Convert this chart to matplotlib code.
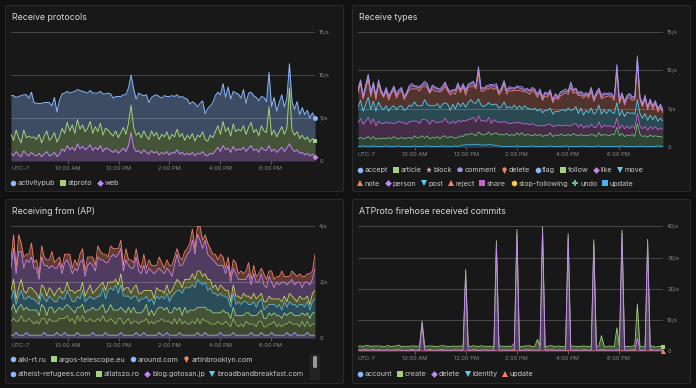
import matplotlib

matplotlib.use("Agg")
import matplotlib.pyplot as plt
import numpy as np
from matplotlib.lines import Line2D
from matplotlib.patches import FancyBboxPatch
from matplotlib.path import Path

# ---- data (values in tenths of events/s) ----
t_start, t_end = 7.75, 19.75
time_ticks = [10, 12, 14, 16, 18]
time_labels = ["10:00 AM", "12:00 PM", "2:00 PM", "4:00 PM", "6:00 PM"]

# Receive protocols
proto_names = ["web", "atproto", "activitypub"]  # bottom to top
proto_web = [
    9, 6, 11, 7, 5, 12, 8, 6, 10, 7, 6, 9, 5, 8, 11, 6, 7, 10, 5, 8,
    14, 11, 18, 13, 16, 12, 20, 14, 17, 13, 15, 19, 12, 16, 13, 18, 11, 15, 14, 12,
    10, 13, 9, 12, 15, 11, 18, 33, 16, 11, 12, 9, 13, 10, 8, 12, 9, 11, 7, 10,
    8, 11, 7, 10, 9, 13, 8, 10, 7, 9, 7, 10, 6, 9, 8, 11, 7, 6, 9, 8,
    12, 16, 11, 18, 13, 15, 10, 17, 12, 14, 13, 16, 11, 15, 18, 12, 14, 10, 16, 13,
    12, 18, 11, 14, 10, 13, 16, 11, 15, 20, 14, 11, 13, 9, 10, 7, 9, 6, 8, 5,
]
proto_atproto = [
    22, 18, 25, 20, 16, 24, 19, 23, 17, 21, 19, 22, 16, 21, 24, 18, 20, 23, 17, 20,
    24, 21, 27, 22, 26, 20, 28, 23, 25, 21, 23, 27, 20, 24, 21, 26, 19, 23, 22, 20,
    19, 22, 18, 21, 24, 20, 26, 32, 23, 19, 21, 18, 22, 19, 17, 23, 20, 22, 18, 21,
    20, 23, 18, 21, 19, 24, 20, 22, 17, 21, 19, 22, 17, 21, 20, 23, 18, 17, 21, 19,
    22, 25, 20, 28, 21, 24, 19, 26, 22, 23, 22, 25, 20, 24, 27, 21, 23, 19, 25, 22,
    21, 45, 19, 22, 18, 21, 24, 20, 23, 65, 22, 19, 21, 17, 20, 18, 19, 16, 18, 18,
]
proto_activitypub = [
    45, 52, 38, 48, 55, 41, 50, 44, 53, 40, 42, 36, 46, 39, 33, 44, 37, 41, 35, 43,
    40, 47, 36, 44, 38, 49, 35, 45, 39, 46, 41, 36, 47, 39, 45, 37, 48, 40, 43, 46,
    44, 40, 48, 42, 38, 46, 41, 35, 45, 42, 46, 50, 41, 48, 43, 39, 47, 44, 50, 42,
    48, 41, 50, 45, 47, 40, 46, 43, 49, 42, 40, 37, 44, 33, 39, 36, 30, 38, 34, 41,
    42, 39, 46, 44, 40, 47, 43, 38, 45, 41, 38, 42, 36, 40, 35, 43, 37, 41, 34, 39,
    36, 40, 33, 38, 30, 34, 37, 32, 35, 28, 33, 30, 35, 28, 32, 29, 31, 28, 30, 27,
]

# Receive types (visible bands, bottom to top)
types_update = [
    1, 1, 2, 1, 1, 1, 2, 1, 1, 1, 1, 2, 1, 1, 1, 1, 2, 1, 1, 1,
    1, 1, 2, 1, 1, 1, 1, 2, 1, 1, 1, 1, 1, 2, 1, 1, 1, 1, 2, 1,
    2, 3, 3, 4, 3, 4, 3, 4, 3, 3, 3, 4, 3, 3, 2, 2, 1, 1, 1, 1,
    1, 1, 2, 1, 1, 1, 1, 1, 2, 1, 1, 1, 1, 1, 1, 2, 1, 1, 1, 1,
    1, 2, 1, 1, 1, 1, 1, 1, 2, 1, 1, 1, 1, 1, 2, 1, 1, 1, 1, 1,
    1, 1, 1, 2, 1, 1, 1, 1, 1, 1, 2, 1, 1, 1, 1, 1, 1, 2, 1, 1,
]
types_undo = [
    10, 12, 9, 11, 13, 10, 12, 9, 11, 10, 11, 9, 12, 10, 13, 11, 9, 12, 10, 11,
    12, 10, 13, 11, 12, 14, 11, 13, 10, 12, 11, 13, 10, 12, 14, 11, 13, 12, 10, 12,
    13, 11, 14, 12, 15, 13, 12, 16, 14, 13, 14, 16, 13, 15, 17, 14, 16, 15, 17, 14,
    16, 14, 17, 15, 18, 14, 16, 15, 13, 16, 14, 16, 13, 15, 14, 17, 13, 15, 14, 16,
    15, 13, 16, 14, 17, 15, 14, 16, 13, 15, 14, 16, 15, 13, 17, 14, 16, 15, 14, 16,
    15, 25, 14, 16, 13, 15, 14, 16, 13, 30, 15, 13, 14, 12, 15, 13, 14, 12, 13, 12,
]
types_share = [
    21, 24, 19, 22, 25, 20, 23, 18, 22, 20, 19, 22, 18, 21, 17, 20, 23, 19, 21, 18,
    20, 23, 19, 22, 18, 21, 24, 20, 19, 22, 21, 18, 22, 19, 23, 20, 17, 21, 19, 22,
    18, 21, 17, 20, 19, 22, 18, 21, 17, 19, 16, 19, 15, 18, 14, 17, 15, 18, 14, 16,
    14, 17, 13, 16, 12, 15, 14, 13, 16, 12, 13, 11, 14, 12, 15, 11, 13, 12, 14, 11,
    12, 14, 11, 13, 12, 15, 11, 13, 10, 12, 11, 13, 10, 12, 14, 10, 12, 11, 13, 10,
    10, 12, 9, 11, 10, 12, 9, 11, 10, 13, 11, 10, 12, 9, 11, 10, 12, 9, 11, 10,
]
types_post = [
    20, 24, 17, 22, 26, 18, 23, 19, 25, 21, 18, 21, 16, 20, 23, 17, 19, 22, 16, 20,
    22, 19, 25, 20, 23, 18, 26, 21, 24, 19, 21, 25, 18, 23, 20, 24, 17, 22, 19, 23,
    20, 23, 18, 22, 25, 19, 24, 22, 21, 18, 22, 19, 24, 20, 23, 18, 21, 25, 19, 22,
    20, 23, 18, 22, 19, 24, 20, 21, 18, 22, 19, 22, 17, 20, 18, 21, 16, 19, 17, 20,
    21, 18, 23, 20, 19, 22, 18, 21, 17, 20, 19, 21, 17, 20, 22, 18, 20, 17, 21, 19,
    18, 20, 17, 19, 16, 18, 20, 17, 19, 18, 16, 14, 17, 13, 15, 12, 14, 11, 13, 11,
]
types_note = [
    19, 22, 16, 20, 24, 17, 21, 15, 23, 18, 16, 19, 14, 18, 21, 15, 17, 20, 14, 18,
    20, 23, 17, 22, 19, 24, 18, 21, 16, 22, 19, 16, 21, 18, 22, 17, 20, 15, 19, 21,
    18, 21, 16, 20, 17, 22, 19, 34, 18, 20, 21, 18, 23, 19, 22, 17, 20, 24, 18, 21,
    22, 19, 24, 20, 23, 18, 21, 19, 25, 20, 18, 21, 16, 19, 17, 20, 15, 18, 16, 19,
    20, 24, 18, 30, 21, 19, 23, 17, 22, 20, 19, 22, 17, 21, 18, 20, 16, 22, 18, 19,
    17, 42, 16, 19, 15, 18, 21, 16, 19, 48, 18, 15, 19, 14, 17, 13, 16, 12, 14, 11,
]
types_like = [
    3, 4, 2, 3, 5, 3, 2, 4, 3, 3, 2, 3, 4, 2, 3, 3, 4, 2, 3, 2,
    3, 4, 3, 2, 4, 3, 3, 4, 2, 3, 4, 3, 2, 3, 4, 2, 3, 3, 4, 3,
    3, 2, 4, 3, 3, 4, 2, 5, 3, 3, 2, 3, 3, 4, 2, 3, 3, 2, 4, 3,
    3, 2, 4, 3, 3, 2, 3, 4, 2, 3, 3, 3, 2, 4, 3, 2, 3, 3, 2, 4,
    3, 2, 3, 5, 3, 4, 2, 3, 3, 2, 3, 4, 2, 3, 3, 2, 4, 3, 2, 3,
    3, 5, 2, 3, 3, 2, 4, 3, 2, 6, 3, 2, 3, 3, 2, 4, 2, 3, 3, 2,
]
types_comment = [
    2, 1, 2, 3, 1, 2, 2, 1, 3, 2, 1, 2, 2, 1, 2, 3, 1, 2, 1, 2,
    2, 3, 1, 2, 2, 1, 3, 2, 1, 2, 2, 1, 2, 3, 1, 2, 2, 1, 2, 2,
    1, 2, 3, 1, 2, 2, 1, 3, 2, 1, 2, 2, 1, 2, 3, 1, 2, 2, 1, 2,
    2, 1, 2, 2, 3, 1, 2, 1, 2, 2, 1, 2, 3, 1, 2, 2, 1, 2, 2, 1,
    2, 3, 1, 2, 2, 1, 2, 2, 3, 1, 2, 1, 2, 2, 1, 3, 2, 1, 2, 2,
    1, 3, 2, 1, 2, 2, 1, 2, 2, 3, 1, 2, 2, 1, 2, 1, 2, 2, 1, 2,
]
types_row1 = ["accept", "article", "block", "comment", "delete", "flag", "follow", "like", "move"]
types_row2 = ["note", "person", "post", "reject", "share", "stop-following", "undo", "update"]

# Receiving from (AP): aggregated domain bands, bottom to top
ap_band1 = [
    1, 1, 2, 1, 1, 1, 2, 1, 1, 1, 1, 1, 1, 2, 1, 1, 1, 1, 2, 1,
    1, 2, 1, 1, 1, 1, 2, 1, 1, 1, 1, 1, 2, 1, 1, 1, 1, 2, 1, 1,
    1, 1, 1, 2, 1, 1, 1, 1, 1, 2, 1, 1, 2, 1, 1, 1, 1, 1, 2, 1,
    1, 2, 1, 1, 1, 1, 2, 1, 1, 1, 1, 1, 1, 2, 1, 1, 2, 1, 1, 1,
    1, 1, 2, 1, 1, 1, 1, 2, 1, 1, 1, 1, 1, 1, 2, 1, 1, 1, 2, 1,
    1, 1, 2, 1, 1, 1, 1, 1, 2, 1, 1, 2, 1, 1, 1, 1, 2, 1, 1, 1,
]
ap_band2 = [
    5, 6, 4, 5, 7, 5, 4, 6, 5, 4, 5, 4, 6, 5, 4, 6, 5, 5, 4, 6,
    6, 5, 7, 5, 6, 4, 6, 5, 7, 5, 5, 6, 4, 5, 6, 5, 7, 4, 5, 6,
    5, 4, 6, 5, 4, 5, 6, 4, 5, 4, 4, 5, 4, 6, 4, 5, 4, 5, 4, 6,
    5, 4, 5, 4, 6, 4, 5, 4, 5, 4, 4, 5, 4, 5, 4, 6, 4, 5, 4, 4,
    4, 5, 3, 4, 5, 4, 3, 5, 4, 3, 4, 3, 5, 4, 3, 4, 3, 5, 4, 3,
    3, 4, 3, 5, 3, 4, 3, 4, 3, 5, 4, 3, 4, 3, 5, 3, 4, 3, 4, 4,
]
ap_band3 = [
    4, 5, 3, 5, 4, 4, 5, 3, 4, 5, 4, 3, 5, 4, 3, 4, 5, 3, 4, 4,
    3, 4, 4, 5, 3, 4, 3, 5, 4, 3, 4, 3, 5, 4, 3, 5, 4, 3, 4, 5,
    4, 5, 3, 4, 5, 3, 4, 4, 5, 3, 4, 3, 4, 5, 3, 4, 3, 4, 5, 4,
    4, 5, 3, 4, 4, 5, 4, 3, 5, 4, 5, 4, 5, 4, 6, 4, 5, 4, 5, 4,
    4, 3, 4, 5, 3, 4, 3, 4, 3, 4, 3, 4, 3, 4, 3, 3, 4, 3, 4, 3,
    3, 4, 3, 3, 4, 3, 3, 4, 3, 3, 4, 3, 3, 4, 3, 4, 3, 3, 4, 4,
]
ap_band4 = [
    4, 5, 3, 4, 5, 4, 3, 5, 4, 4, 3, 4, 4, 3, 5, 4, 3, 4, 3, 4,
    4, 3, 5, 4, 3, 4, 4, 3, 5, 4, 4, 5, 3, 4, 5, 4, 6, 5, 7, 6,
    7, 9, 6, 8, 5, 6, 4, 5, 4, 6, 4, 5, 4, 3, 5, 4, 4, 5, 3, 4,
    4, 5, 4, 6, 5, 7, 6, 8, 7, 9, 8, 9, 8, 10, 9, 8, 9, 7, 8, 7,
    7, 6, 7, 5, 6, 5, 4, 5, 4, 5, 4, 5, 4, 3, 4, 5, 3, 4, 4, 3,
    4, 3, 4, 3, 3, 4, 3, 4, 3, 4, 3, 4, 3, 4, 3, 3, 4, 3, 4, 5,
]
ap_band5 = [
    3, 4, 2, 3, 4, 3, 2, 3, 4, 3, 3, 2, 3, 4, 2, 3, 3, 2, 4, 3,
    2, 3, 3, 2, 4, 3, 2, 3, 3, 2, 3, 4, 2, 3, 3, 4, 2, 3, 3, 2,
    3, 2, 3, 4, 2, 3, 3, 2, 3, 4, 3, 2, 3, 2, 4, 3, 2, 3, 3, 2,
    2, 3, 3, 2, 3, 4, 3, 2, 3, 3, 3, 4, 3, 3, 4, 3, 3, 4, 3, 2,
    3, 2, 3, 3, 2, 3, 2, 3, 3, 2, 2, 3, 2, 3, 2, 3, 3, 2, 2, 3,
    2, 3, 2, 2, 3, 2, 3, 2, 2, 3, 3, 2, 2, 3, 2, 3, 2, 2, 3, 3,
]
ap_band6 = [
    8, 11, 9, 13, 10, 8, 12, 9, 11, 8, 9, 7, 10, 8, 11, 7, 9, 10, 8, 9,
    7, 10, 8, 9, 6, 9, 7, 10, 8, 7, 9, 8, 10, 7, 11, 9, 8, 10, 7, 9,
    10, 8, 11, 9, 7, 10, 8, 9, 7, 10, 8, 7, 9, 6, 8, 7, 9, 6, 8, 7,
    7, 6, 8, 5, 7, 9, 6, 8, 7, 9, 10, 12, 9, 13, 11, 10, 12, 9, 8, 10,
    8, 9, 7, 8, 6, 9, 7, 6, 8, 6, 7, 5, 6, 8, 5, 7, 6, 5, 7, 6,
    5, 7, 6, 4, 6, 5, 7, 5, 6, 4, 6, 5, 7, 5, 4, 6, 5, 7, 5, 8,
]
ap_band7 = [
    3, 5, 2, 6, 3, 4, 2, 3, 5, 2, 3, 2, 4, 3, 2, 3, 5, 2, 3, 2,
    2, 3, 2, 4, 2, 3, 2, 3, 4, 2, 3, 2, 3, 2, 4, 3, 2, 3, 2, 4,
    2, 3, 2, 3, 2, 4, 2, 3, 2, 3, 3, 2, 4, 2, 3, 2, 3, 2, 4, 3,
    2, 3, 2, 4, 3, 2, 3, 2, 3, 2, 3, 4, 2, 3, 5, 3, 2, 4, 3, 2,
    3, 2, 4, 3, 2, 3, 2, 3, 4, 2, 3, 2, 3, 4, 2, 3, 2, 3, 2, 4,
    3, 2, 4, 3, 2, 3, 4, 2, 3, 2, 3, 4, 2, 3, 4, 2, 3, 4, 3, 5,
]
ap_row1 = ["alki-rt.ru", "argos-telescope.eu", "around.com", "artinbrooklyn.com"]
ap_row2 = ["atheist-refugees.com", "atlatszo.ro", "blog.gotosan.jp", "broadbandbreakfast.com"]

# ATProto firehose received commits
commits_update = [
    1, 1, 1, 2, 1, 1, 1, 1, 2, 1, 1, 1, 1, 1, 1, 2, 1, 1, 1, 1,
    1, 2, 1, 1, 1, 1, 1, 1, 2, 1, 1, 1, 1, 2, 1, 1, 1, 1, 1, 1,
    2, 1, 1, 1, 1, 1, 2, 1, 1, 1, 1, 1, 1, 2, 1, 1, 1, 1, 1, 1,
    1, 2, 1, 1, 1, 1, 1, 2, 1, 1, 1, 1, 1, 1, 2, 1, 1, 1, 1, 1,
    1, 1, 2, 1, 1, 1, 1, 1, 1, 2, 1, 1, 1, 1, 1, 1, 2, 1, 1, 1,
    1, 1, 1, 2, 1, 1, 1, 1, 2, 1, 1, 1, 1, 1, 2, 1, 1, 1, 1, 1,
]
commits_delete = [
    3, 2, 4, 3, 2, 3, 5, 2, 3, 3, 2, 4, 3, 2, 3, 3, 4, 2, 3, 2,
    3, 4, 2, 3, 3, 85, 3, 2, 4, 3, 2, 3, 3, 4, 2, 3, 2, 3, 4, 3,
    2, 3, 250, 3, 2, 4, 3, 2, 3, 3, 4, 2, 3, 2, 340, 3, 2, 4, 3, 2,
    3, 4, 375, 3, 2, 3, 4, 2, 3, 3, 2, 4, 385, 3, 2, 3, 4, 2, 3, 3,
    2, 3, 363, 4, 2, 3, 3, 2, 4, 3, 2, 3, 345, 3, 2, 4, 3, 2, 3, 3,
    2, 4, 3, 375, 3, 2, 3, 4, 2, 40, 3, 2, 3, 345, 3, 4, 2, 3, 3, 2,
]
commits_create = [
    12, 14, 11, 13, 15, 12, 11, 14, 12, 13, 11, 12, 14, 11, 13, 12, 15, 11, 12, 13,
    12, 11, 14, 12, 13, 11, 12, 14, 11, 13, 12, 11, 13, 12, 14, 11, 12, 13, 11, 12,
    13, 12, 11, 14, 12, 13, 11, 12, 14, 12, 11, 13, 12, 11, 13, 12, 14, 11, 12, 13,
    12, 20, 14, 12, 11, 13, 12, 14, 11, 12, 35, 12, 13, 11, 12, 14, 12, 11, 13, 12,
    11, 13, 12, 11, 14, 12, 11, 13, 12, 11, 12, 13, 11, 12, 14, 45, 12, 11, 13, 12,
    11, 70, 12, 11, 13, 12, 11, 12, 13, 110, 12, 11, 13, 12, 11, 12, 10, 11, 12, 10,
]
commits_legend = ["account", "create", "delete", "identity", "update"]

# ---- styling ----
FIG_BG = "#111111"
PANEL_BG = "#181818"
BORDER = "#2a2a2a"
TITLE_C = "#d9d9d9"
TICK_C = "#8c8c8c"
LEG_C = "#c6c6c6"

BLUE = "#8ab8ff"
GREEN = "#a3d17c"
PURPLE = "#c486f2"
CYAN = "#5ccff0"
SALMON = "#f2836b"
ORANGE = "#f08a5d"
SLATE = "#9a93e6"
PINK = "#f2a6d8"
MAGENTA = "#c264c8"
YELLOW = "#f2c94c"
DGREEN = "#6cbf7f"
LBLUE = "#45b0f0"
OLIVE = "#8fae5e"
LIME = "#c9d66a"
LAVENDER = "#a8a8f0"
TEAL = "#52b7e0"

W, H = 696, 388
plt.rcParams["font.family"] = ["Inter", "DejaVu Sans"]

# teardrop marker for "delete"/"artinbrooklyn.com"
ang = np.linspace(np.radians(-50), np.radians(230), 24)
pin_verts = [(0.62 * np.cos(a), 0.3 + 0.62 * np.sin(a)) for a in ang] + [(0, -1.0)]
PIN = Path(pin_verts + [pin_verts[0]], closed=True)

fig = plt.figure(figsize=(W / 100, H / 100), dpi=100, facecolor=FIG_BG)


def panel(x0, y0, x1, y1, title):
    box = FancyBboxPatch(
        (x0 / W, 1 - y1 / H), (x1 - x0) / W, (y1 - y0) / H,
        boxstyle="round,pad=0,rounding_size=0.004",
        transform=fig.transFigure, fc=PANEL_BG, ec=BORDER, lw=0.8, zorder=-5,
    )
    fig.patches.append(box)
    fig.text((x0 + 7) / W, 1 - (y0 + 12) / H, title, color=TITLE_C,
             fontsize=6.3, va="center", ha="left")


def make_axes(left, right, zero, top, ymax, yticks, ylabels, label_y):
    ax = fig.add_axes([left / W, 1 - zero / H, (right - left) / W, (zero - top) / H])
    ax.set_zorder(1)
    ax.set_facecolor("none")
    ax.set_xlim(t_start, t_end)
    ax.set_ylim(0, ymax)
    for s in ax.spines.values():
        s.set_visible(False)
    ax.yaxis.tick_right()
    ax.set_yticks(yticks, ylabels)
    ax.tick_params(axis="y", length=0, pad=3, labelsize=4.1, labelcolor=TICK_C)
    ax.set_xticks(time_ticks, time_labels)
    ax.tick_params(axis="x", length=2.5, width=0.6, color="#6a6a6a", pad=1.2,
                   labelsize=4.1, labelcolor=TICK_C)
    for v in yticks[1:]:
        ax.axhline(v, color="white", alpha=0.2, lw=0.7, zorder=2)
    ax.axhline(0, color="#707070", lw=0.8, zorder=2)
    fig.text(left / W, 1 - label_y / H, "UTC-7", fontsize=4.1, color=TICK_C,
             va="center", ha="left")
    return ax


def draw_stack(ax, series, colors, line_z=None, alpha=0.33, lw=0.7):
    vals = [np.asarray(s, dtype=float) / 10 for s in series]
    t = np.linspace(t_start, t_end, len(vals[0]))
    base = np.zeros_like(t)
    tops = []
    for i, (v, c) in enumerate(zip(vals, colors)):
        top = base + v
        ax.fill_between(t, base, top, color=c, alpha=alpha, lw=0, zorder=1)
        z = 3 if line_z is None else line_z[i]
        ax.plot(t, top, color=c, lw=lw, zorder=z)
        tops.append(top)
        base = top
    return t, tops


def legend_row(items, x, y):
    handles = []
    for name, marker, color, size in items:
        handles.append(Line2D([], [], ls="none", marker=marker, color=color,
                              markersize=size, markeredgewidth=0, label=name))
    leg = fig.legend(handles=handles, loc="center left", bbox_to_anchor=(x / W, 1 - y / H),
                     ncol=len(handles), frameon=False, fontsize=5.2, handlelength=0.6,
                     handletextpad=0.35, columnspacing=0.75, borderpad=0, borderaxespad=0)
    for txt in leg.get_texts():
        txt.set_color(LEG_C)
    return leg


# ---- panel 1: Receive protocols ----
panel(5.5, 5.5, 343.5, 191.5, "Receive protocols")
ax1 = make_axes(11, 315, 161, 32, 15, [0, 5, 10, 15], ["0", "5/s", "10/s", "15/s"], 168)
t1, tops1 = draw_stack(ax1, [proto_web, proto_atproto, proto_activitypub], [PURPLE, GREEN, BLUE])
for top, c, m in zip(tops1, [PURPLE, GREEN, BLUE], ["D", "s", "o"]):
    ax1.plot(t1[-1], top[-1], marker=m, color=c, markersize=3 if m == "D" else 3.5,
             mew=0, clip_on=False, zorder=5)
legend_row([("activitypub", "o", BLUE, 4), ("atproto", "s", GREEN, 3.8),
            ("web", "D", PURPLE, 3.4)], 11, 183)

# ---- panel 2: Receive types ----
panel(352.5, 5.5, 690.5, 191.5, "Receive types")
ax2 = make_axes(358, 663, 147.3, 32, 15, [0, 5, 10, 15], ["0", "5/s", "10/s", "15/s"], 155)
draw_stack(ax2, [types_update, types_undo, types_share, types_post, types_note,
                 types_like, types_comment],
           [LBLUE, DGREEN, MAGENTA, CYAN, SALMON, PURPLE, SLATE], alpha=0.27, lw=0.6)
type_style = {
    "accept": ("o", BLUE, 4), "article": ("s", GREEN, 3.8), "block": ("*", PINK, 5),
    "comment": ("p", SLATE, 4.2), "delete": (PIN, ORANGE, 5), "flag": ("o", BLUE, 4),
    "follow": ("s", GREEN, 3.8), "like": ("D", PURPLE, 3.4), "move": ("v", CYAN, 4.2),
    "note": ("^", SALMON, 4.2), "person": ("D", PURPLE, 3.4), "post": ("v", CYAN, 4.2),
    "reject": ("^", SALMON, 4.2), "share": ("s", MAGENTA, 3.8),
    "stop-following": ("h", YELLOW, 4.4), "undo": ("P", DGREEN, 4.4),
    "update": ("s", LBLUE, 3.8),
}
legend_row([(n,) + type_style[n] for n in types_row1], 358, 170)
legend_row([(n,) + type_style[n] for n in types_row2], 358, 183.5)

# ---- panel 3: Receiving from (AP) ----
panel(5.5, 199.5, 343.5, 383.5, "Receiving from (AP)")
ax3 = make_axes(11, 315, 338, 226.3, 4, [0, 2, 4], ["0", "2/s", "4/s"], 345.7)
draw_stack(ax3, [ap_band1, ap_band2, ap_band3, ap_band4, ap_band5, ap_band6, ap_band7],
           [LAVENDER, OLIVE, GREEN, TEAL, LIME, PURPLE, SALMON], alpha=0.33, lw=0.6)
ap_style = {
    "alki-rt.ru": ("o", BLUE, 4), "argos-telescope.eu": ("s", GREEN, 3.8),
    "around.com": ("o", BLUE, 4), "artinbrooklyn.com": (PIN, ORANGE, 5),
    "atheist-refugees.com": ("o", BLUE, 4), "atlatszo.ro": ("s", GREEN, 3.8),
    "blog.gotosan.jp": ("D", PURPLE, 3.4), "broadbandbreakfast.com": ("v", CYAN, 4.2),
}
legend_row([(n,) + ap_style[n] for n in ap_row1], 11, 359.7)
legend_row([(n,) + ap_style[n] for n in ap_row2], 11, 374)
# legend scrollbar
fig.patches.append(FancyBboxPatch((310 / W, 1 - 380 / H), 10 / W, 26 / H,
                                  boxstyle="square,pad=0", transform=fig.transFigure,
                                  fc="#232323", ec="none", zorder=1))
fig.patches.append(FancyBboxPatch((313 / W, 1 - 368 / H), 4 / W, 12 / H,
                                  boxstyle="round,pad=0,rounding_size=0.003",
                                  transform=fig.transFigure, fc="#9a9a9a", ec="none", zorder=2))

# ---- panel 4: ATProto firehose received commits ----
panel(352.5, 199.5, 690.5, 383.5, "ATProto firehose received commits")
ax4 = make_axes(358, 663, 351.3, 351.3 - 42 * 3.125, 42, [0, 10, 20, 30, 40],
                ["0", "10/s", "20/s", "30/s", "40/s"], 358.3)
t4, tops4 = draw_stack(ax4, [commits_update, commits_delete, commits_create],
                       [SALMON, PURPLE, GREEN], line_z=[3, 4, 3], alpha=0.35, lw=0.6)
ax4.plot(t4[-1], tops4[0][-1], marker="^", color=SALMON, markersize=3.6, mew=0,
         clip_on=False, zorder=5)
ax4.plot(t4[-1], tops4[2][-1], marker="s", color=GREEN, markersize=3.2, mew=0,
         clip_on=False, zorder=5)
commit_style = {"account": ("o", BLUE, 4), "create": ("s", GREEN, 3.8),
                "delete": ("D", PURPLE, 3.4), "identity": ("v", CYAN, 4.2),
                "update": ("^", SALMON, 4.2)}
legend_row([(n,) + commit_style[n] for n in commits_legend], 358, 374)

fig.savefig("out.png", dpi=100, facecolor=FIG_BG)
